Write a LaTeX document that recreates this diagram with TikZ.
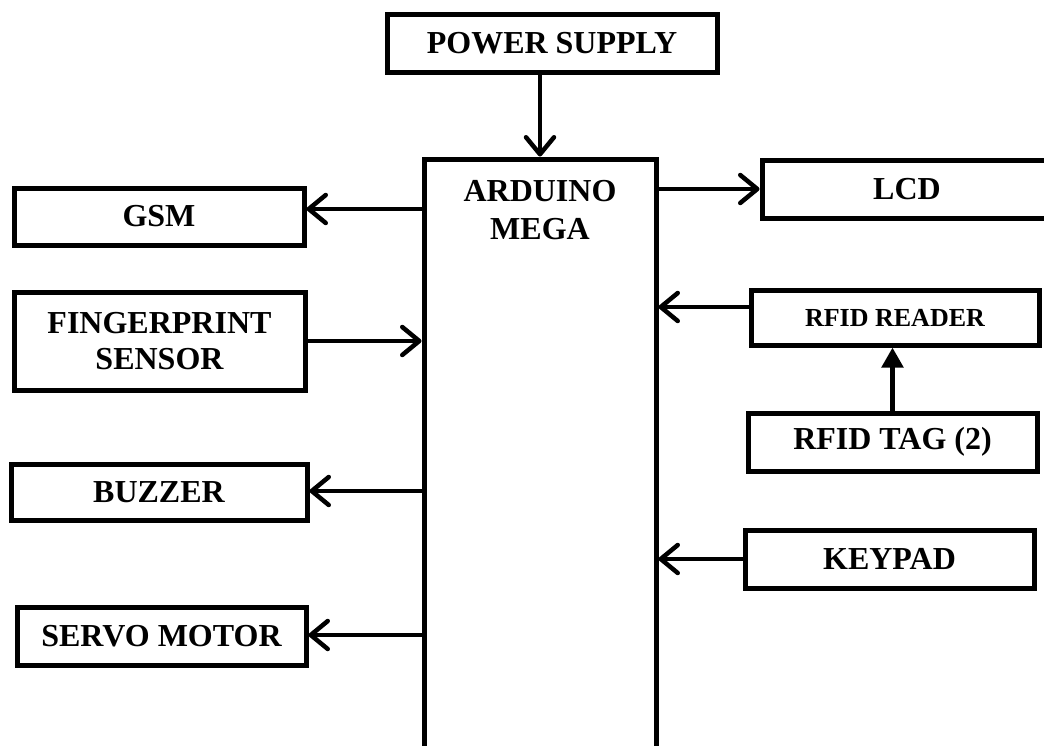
\documentclass[tikz,border=0pt]{standalone}
\usepackage{fontspec}
\setmainfont{Liberation Serif}
\usetikzlibrary{arrows.meta}
\begin{document}
\begin{tikzpicture}[x=1pt,y=-1pt,
  box/.style={draw,line width=5pt,inner sep=0pt,align=center,
    font=\fontsize{32}{36}\selectfont\bfseries},
  smallbox/.style={box,font=\fontsize{26}{30}\selectfont\bfseries},
  txt/.style={inner sep=0pt,align=center,font=\fontsize{32}{38}\selectfont\bfseries},
  arr/.style={line width=4.5pt,-{Straight Barb[length=17pt,width=28pt,line width=4.5pt,round]}},
  tri/.style={line width=5pt,-{Triangle[length=20pt,width=21pt]}}]
\useasboundingbox (0,0) rectangle (1044,745);
\fill[white] (0,0) rectangle (1044,745);
\node[box,minimum width=330pt,minimum height=58pt] (ps) at (552,43) {POWER SUPPLY};
\node[box,minimum width=232pt,minimum height=595pt] (ard) at (540,456.5) {};
\node[txt] (ardtxt) at (540,210) {ARDUINO\\MEGA};
\node[box,minimum width=290pt,minimum height=58pt] (lcd) at (907,189) {LCD};
\node[box,minimum width=290pt,minimum height=57pt] (gsm) at (159,216.5) {GSM};
\node[box,minimum width=291pt,minimum height=98pt] (fp) at (159.5,341) {FINGERPRINT\\SENSOR};
\node[smallbox,minimum width=288pt,minimum height=55pt] (rfr) at (895,317.5) {RFID READER};
\node[box,minimum width=289pt,minimum height=58pt] (tag) at (892.5,442) {RFID TAG (2)};
\node[box,minimum width=296pt,minimum height=56pt] (buz) at (159,492) {BUZZER};
\node[box,minimum width=289pt,minimum height=58pt] (key) at (889.5,559) {KEYPAD};
\node[box,minimum width=289pt,minimum height=58pt] (servo) at (161.5,636) {SERVO MOTOR};

\draw[arr] (ps.south -| 540,0) -- (ard.north -| 540,0);
\draw[arr] (ard.east |- 0,189) -- (lcd.west |- 0,189);
\draw[arr] (ard.west |- 0,209) -- (gsm.east |- 0,209);
\draw[arr] (fp.east) -- (ard.west |- fp.east);
\draw[arr] (rfr.west |- 0,307) -- (ard.east |- 0,307);
\draw[tri] (tag.north) -- (rfr.south -| tag.north);
\draw[arr] (ard.west |- 0,491) -- (buz.east |- 0,491);
\draw[arr] (key.west) -- (ard.east |- key.west);
\draw[arr] (ard.west |- 0,635) -- (servo.east |- 0,635);
\end{tikzpicture}
\end{document}
